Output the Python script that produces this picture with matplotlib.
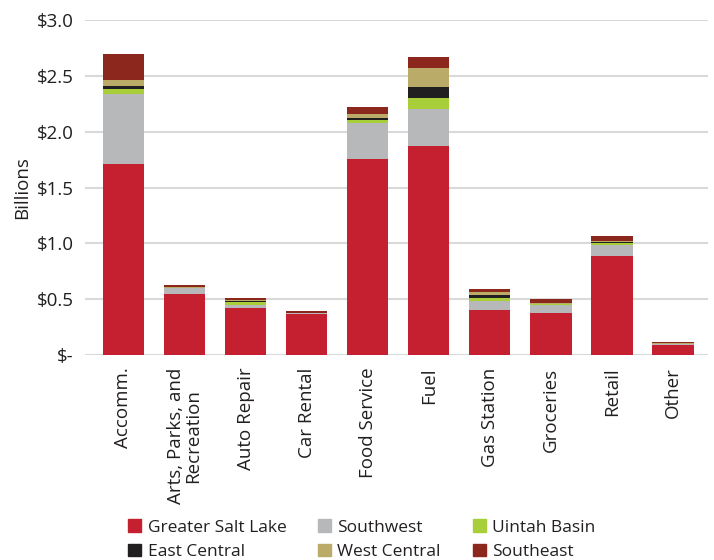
import numpy as np
import matplotlib.pyplot as plt
from matplotlib.patches import Patch

plt.rcParams['font.family'] = ['Open Sans', 'DejaVu Sans']

categories = ["Accomm.", "Arts, Parks, and\nRecreation", "Auto Repair", "Car Rental",
              "Food Service", "Fuel", "Gas Station", "Groceries", "Retail", "Other"]

# spending by region, billions of dollars
greater_salt_lake = [1.71, 0.546, 0.421, 0.367, 1.755, 1.872, 0.403, 0.376, 0.887, 0.090]
southwest = [0.627, 0.054, 0.024, 0.007, 0.323, 0.331, 0.081, 0.072, 0.099, 0.009]
uintah_basin = [0.042, 0.002, 0.033, 0.002, 0.026, 0.098, 0.027, 0.009, 0.018, 0.002]
east_central = [0.030, 0.002, 0.009, 0.001, 0.018, 0.099, 0.027, 0.003, 0.006, 0.001]
west_central = [0.054, 0.003, 0.008, 0.002, 0.036, 0.170, 0.027, 0.006, 0.009, 0.002]
southeast = [0.232, 0.022, 0.015, 0.020, 0.063, 0.098, 0.027, 0.036, 0.048, 0.017]

series = [
    ("Greater Salt Lake", greater_salt_lake, "#C4202F"),
    ("Southwest", southwest, "#B7B8BA"),
    ("Uintah Basin", uintah_basin, "#A8CE3A"),
    ("East Central", east_central, "#221F20"),
    ("West Central", west_central, "#BBAB69"),
    ("Southeast", southeast, "#8B271D"),
]

fig = plt.figure(figsize=(7.14, 5.6), dpi=100)
ax = fig.add_axes([0.119, 0.366, 0.873, 0.598])

x = np.arange(len(categories))
bottom = np.zeros(len(categories))
for name, vals, col in series:
    ax.bar(x, vals, 0.68, bottom=bottom, color=col, label=name, zorder=3)
    bottom += np.array(vals)

ax.set_ylim(0, 3.0)
ax.set_xlim(-0.63, 9.58)
yt = [0, 0.5, 1.0, 1.5, 2.0, 2.5, 3.0]
ax.set_yticks(yt)
ax.set_yticklabels(["$-", "$0.5", "$1.0", "$1.5", "$2.0", "$2.5", "$3.0"], fontsize=13.5, color="#231F20")
ax.set_xticks(x)
ax.set_xticklabels(categories, rotation=90, fontsize=13.5, color="#231F20", linespacing=0.9)
ax.tick_params(axis='both', length=0)
ax.tick_params(axis='x', pad=9)
ax.tick_params(axis='y', pad=8)
for s in ax.spines.values():
    s.set_visible(False)
ax.yaxis.grid(True, color="#D9D9D9", linewidth=1.5, zorder=0)
ax.set_ylabel("Billions", fontsize=13.5, color="#231F20", labelpad=4)

# legend fills column-wise, reorder so rows read across
order = [0, 3, 1, 4, 2, 5]
handles = [Patch(color=series[i][2], label=series[i][0]) for i in order]
fig.legend(handles=handles, ncol=3, loc="lower left", bbox_to_anchor=(0.158, -0.028),
           frameon=False, fontsize=12.5, handlelength=0.75, handleheight=0.75,
           handletextpad=0.35, columnspacing=1.85, labelspacing=0.45,
           labelcolor="#231F20")

fig.savefig("out.png", dpi=100)
